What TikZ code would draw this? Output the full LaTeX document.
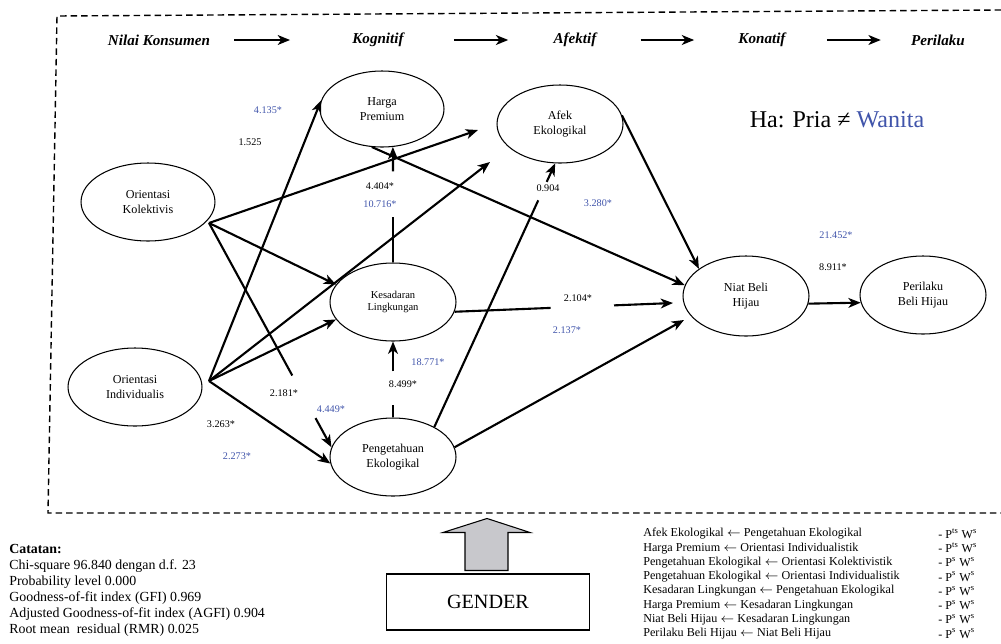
\documentclass[tikz,border=0pt]{standalone}
\usepackage{fontspec}
\setmainfont{Liberation Serif}
\usepackage{tikz}
\usetikzlibrary{shapes,arrows.meta,calc}
\definecolor{wanitablue}{RGB}{64,84,170}
\definecolor{panahabu}{RGB}{200,200,204}
\newcommand{\kiri}{\ensuremath{\leftarrow}}

\begin{document}
\begin{tikzpicture}[
    x=0.02cm, y=-0.02cm,
    konstruk/.style={ellipse, draw, line width=0.6pt, minimum width=2.52cm, minimum height=1.56cm, inner sep=0pt, align=center, font=\fontsize{6.9}{8.2}\selectfont},
    tahap/.style={font=\fontsize{8.6}{10}\selectfont\bfseries\itshape, inner sep=0pt},
    lbl/.style={font=\fontsize{5.8}{7}\selectfont, inner sep=0pt},
    lblw/.style={lbl, text=wanitablue},
    jalur/.style={line width=1.2pt},
    panah/.style={jalur, -{Stealth[length=7pt, width=5.6pt, inset=2pt]}},
    tahappanah/.style={line width=1.3pt, -{Stealth[length=7pt, width=5.6pt, inset=2pt]}}
]
\useasboundingbox (0,0) rectangle (1001,643);

% Frame
\draw[line width=0.8pt, dash pattern=on 0.13cm off 0.08cm] (1001,10) -- (57,16) -- (48,513) -- (1001,513);

% Stages
\node[tahap] (nilai) at (159,40) {Nilai Konsumen};
\node[tahap] (kognitif) at (378,40) {Kognitif};
\node[tahap] (afektif) at (575,40) {Afektif};
\node[tahap] (konatif) at (762,40) {Konatif};
\node[tahap] (perilakuh) at (938,40) {Perilaku};

\draw[tahappanah, shorten <=0.48cm, shorten >=1.24cm] (nilai) -- (kognitif);
\draw[tahappanah, shorten <=1.0cm, shorten >=0.9cm] (kognitif) -- (afektif);
\draw[tahappanah, shorten <=0.88cm, shorten >=0.88cm] (afektif) -- (konatif);
\draw[tahappanah, shorten <=0.82cm, shorten >=0.6cm] (konatif) -- (perilakuh);

% Constructs
\node[konstruk, minimum width=2.48cm, minimum height=1.52cm] (harga) at (382,109) {Harga\\Premium};
\node[konstruk] (afek) at (560,124) {Afek\\Ekologikal};
\node[konstruk, minimum width=2.68cm] (kol) at (148,202) {Orientasi\\Kolektivis};
\node[konstruk, font=\fontsize{6}{7.2}\selectfont] (kes) at (393,302) {Kesadaran\\Lingkungan};
\node[konstruk, minimum width=2.68cm] (ind) at (135,387) {Orientasi\\Individualis};
\node[konstruk] (peng) at (393,457) {Pengetahuan\\Ekologikal};
\node[konstruk, minimum height=1.6cm] (niat) at (746,296) {Niat Beli\\Hijau};
\node[konstruk] (perilaku) at (923,295) {Perilaku\\Beli Hijau};

\node[font=\fontsize{13.7}{16}\selectfont] (hipotesis) at (837,120) {Ha: Pria ≠ \textcolor{wanitablue}{Wanita}};

% Path ends
\coordinate (kolout) at (209,223);
\coordinate (indout) at (209,381);
\coordinate (afekkol) at (478,130);
\coordinate (afekind) at (490,162);
\coordinate (niatkes) at (673,303);
\coordinate (niatpeng) at (684,320);

% Orientasi Kolektivis
\draw[panah] (kolout) -- (afekkol);
\draw[panah] (kolout) -- (kes.163);
\draw[jalur] (kolout) -- ($(kolout)!.68!(peng.171)$);
\draw[panah] ($(kolout)!.87!(peng.171)$) -- (peng.171);

% Orientasi Individualis
\draw[panah] (indout) -- (harga.172);
\draw[panah] (indout) -- (afekind);
\draw[panah] (indout) -- (kes.197);
\draw[panah] (indout) -- (peng.186);

% Kognitif
\draw[jalur] (kes.north) -- ++(0,-45);
\draw[panah] ($(kes.north)+(0,-91)$) -- (harga.-74);
\draw[jalur] (peng.north) -- ++(0,-12);
\draw[panah] ($(peng.north)+(0,-46)$) -- (kes.south);
\draw[jalur] (peng.36) -- ($(peng.36)!.86!(afek.263)$);
\draw[panah] ($(peng.36)!.93!(afek.263)$) -- (afek.263);

% Towards Niat Beli Hijau
\draw[panah] (harga.255) -- (niat.170);
\draw[panah] (afek.8) -- (niat.150);
\draw[jalur] (kes.-9) -- ($(kes.-9)!.44!(niatkes)$);
\draw[panah] ($(kes.-9)!.73!(niatkes)$) -- (niatkes);
\draw[panah] (peng.9) -- (niatpeng);
\draw[panah] (niat.-7) -- (perilaku.187);

% Path values (black = pria, blue = wanita)
\node[lblw] (w1) at (268,110) {4.135*};
\node[lbl] (p1) at (250,142) {1.525};
\node[lbl] (p2) at (380,186) {4.404*};
\node[lblw] (w2) at (380,204) {10.716*};
\node[lbl] (p3) at (548,188) {0.904};
\node[lblw] (w3) at (598,203) {3.280*};
\node[lblw] (w4) at (836,235) {21.452*};
\node[lbl] (p4) at (833,267) {8.911*};
\node[lbl] (p5) at (578,298) {2.104*};
\node[lblw] (w5) at (567,330) {2.137*};
\node[lblw] (w6) at (428,362) {18.771*};
\node[lbl] (p6) at (403,384) {8.499*};
\node[lbl] (p7) at (284,393) {2.181*};
\node[lblw] (w7) at (331,409) {4.449*};
\node[lbl] (p8) at (221,424) {3.263*};
\node[lblw] (w8) at (237,456) {2.273*};

% Notes
\node[font=\fontsize{7.9}{9.1}\selectfont, align=left, anchor=north west, inner sep=0pt] (catatan) at (9,544)
  {\textbf{Catatan:}\\Chi-square 96.840 dengan d.f. 23\\Probability level 0.000\\Goodness-of-fit index (GFI) 0.969\\Adjusted Goodness-of-fit index (AGFI) 0.904\\Root mean \ residual (RMR) 0.025};

% Gender
\node[draw, line width=0.6pt, minimum width=4.06cm, minimum height=1.12cm, font=\fontsize{11.5}{13}\selectfont] (gender) at (488,602) {GENDER};
\draw[line width=0.6pt, fill=panahabu] ($(gender.north)+(-23,-3)$) -- ++(0,-38) -- ++(-22,0) -- ($(gender.north)+(-1,-55)$) -- ($(gender.north)+(42,-41)$) -- ++(-22,0) -- ++(0,38) -- cycle;

% Legend
\node[font=\fontsize{6.9}{8.1}\selectfont, align=left, anchor=north west, inner sep=0pt] (keterangan) at (643,528)
  {Afek Ekologikal \kiri\ Pengetahuan Ekologikal\\Harga Premium \kiri\ Orientasi Individualistik\\Pengetahuan Ekologikal \kiri\ Orientasi Kolektivistik\\Pengetahuan Ekologikal \kiri\ Orientasi Individualistik\\Kesadaran Lingkungan \kiri\ Pengetahuan Ekologikal\\Harga Premium \kiri\ Kesadaran Lingkungan\\Niat Beli Hijau \kiri\ Kesadaran Lingkungan\\Perilaku Beli Hijau \kiri\ Niat Beli Hijau};
\node[font=\fontsize{6.9}{8.1}\selectfont, align=left, anchor=north west, inner sep=0pt] (signifikan) at (938,528)
  {- P\textsuperscript{ts} W\textsuperscript{s}\\- P\textsuperscript{ts} W\textsuperscript{s}\\- P\textsuperscript{s} W\textsuperscript{s}\\- P\textsuperscript{s} W\textsuperscript{s}\\- P\textsuperscript{s} W\textsuperscript{s}\\- P\textsuperscript{s} W\textsuperscript{s}\\- P\textsuperscript{s} W\textsuperscript{s}\\- P\textsuperscript{s} W\textsuperscript{s}};

\end{tikzpicture}
\end{document}
